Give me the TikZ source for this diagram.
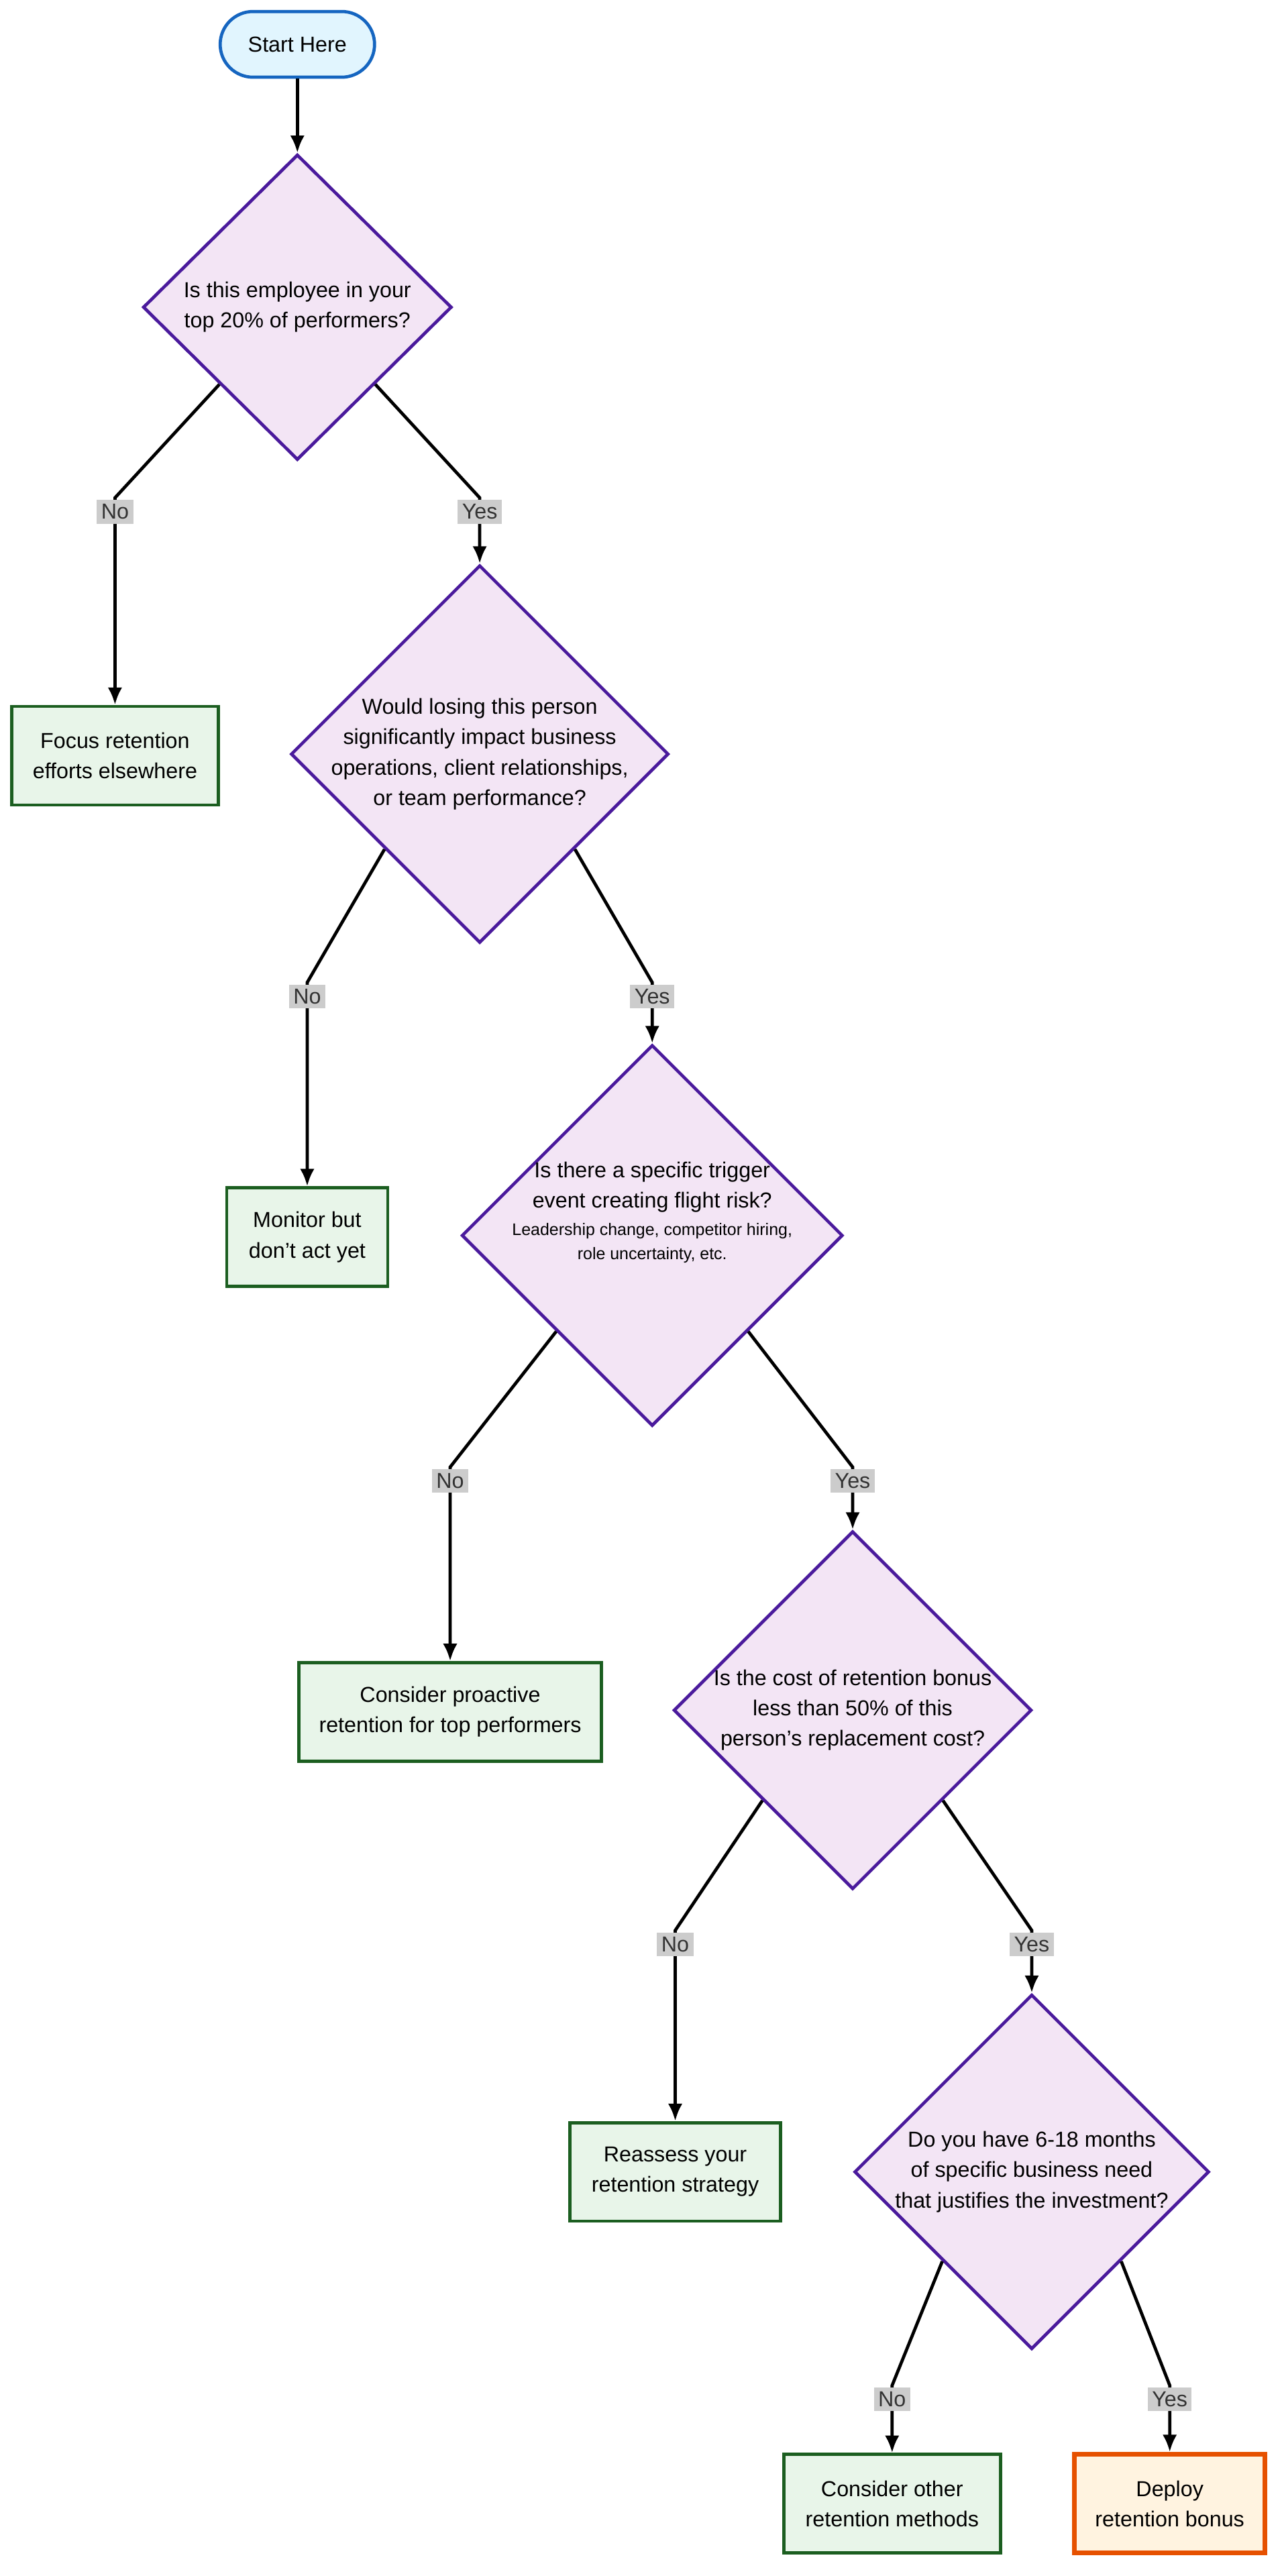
\documentclass[tikz,border=0pt]{standalone}
\usepackage{fontspec}
\setmainfont{Liberation Sans}
\usetikzlibrary{shapes.geometric, arrows.meta, calc}
\definecolor{startfill}{HTML}{E1F5FE}
\definecolor{startdraw}{HTML}{1565C0}
\definecolor{qfill}{HTML}{F3E5F5}
\definecolor{qdraw}{HTML}{4A1A9C}
\definecolor{afill}{HTML}{E8F5E9}
\definecolor{adraw}{HTML}{1B5E20}
\definecolor{ofill}{HTML}{FFF3E0}
\definecolor{odraw}{HTML}{E65100}
\tikzset{
  startnode/.style={rectangle, rounded corners=0.4cm, draw=startdraw, fill=startfill, line width=1.1pt, minimum width=1.88cm, minimum height=0.8cm, font=\fontsize{7.5}{9}\selectfont},
  question/.style={diamond, draw=qdraw, fill=qfill, line width=1.1pt, inner sep=0},
  qtext/.style={align=center, font=\fontsize{7.5}{10.5}\selectfont},
  action/.style={rectangle, draw=adraw, fill=afill, line width=1.1pt, minimum height=1.2cm, align=center, font=\fontsize{7.5}{10.5}\selectfont},
  final/.style={rectangle, draw=odraw, fill=ofill, line width=1.7pt, minimum height=1.2cm, align=center, font=\fontsize{7.5}{10.5}\selectfont},
  lbl/.style={fill=black!20, text=black!80, inner sep=1.5pt, font=\fontsize{7.5}{9}\selectfont, yshift=-0.17cm},
  flow/.style={line width=1.1pt, -{Latex[length=6pt,width=5pt]}},
}
\begin{document}
\begin{tikzpicture}[x=0.02cm, y=-0.02cm]
\useasboundingbox (0,0) rectangle (780,1568);
%start
\node[startnode] (start) at (181,27) {Start Here};
%question 1
\node[question, minimum width=3.76cm, minimum height=3.72cm] (q1) at (181,187) {};
\node[qtext] at (q1) {Is this employee in your\\top 20\% of performers?};
\node[action, minimum width=2.52cm] (a1) at (70,460) {Focus retention\\efforts elsewhere};
%question 2
\node[question, minimum width=4.6cm, minimum height=4.6cm] (q2) at (292,459) {};
\node[qtext] at (q2) {Would losing this person\\significantly impact business\\operations, client relationships,\\or team performance?};
\node[action, minimum width=1.96cm] (a2) at (187,753) {Monitor but\\don't act yet};
%question 3
\node[question, minimum width=4.64cm, minimum height=4.64cm] (q3) at (397,752) {};
\node[qtext] at ([yshift=8]q3) {Is there a specific trigger\\event creating flight risk?\\[-1pt]{\fontsize{5.8}{9}\selectfont Leadership change, competitor hiring,}\\[-2pt]{\fontsize{5.8}{9}\selectfont role uncertainty, etc.}};
\node[action, minimum width=3.68cm] (a3) at (274,1042) {Consider proactive\\retention for top performers};
%question 4
\node[question, minimum width=4.36cm, minimum height=4.36cm] (q4) at (519,1041) {};
\node[qtext] at (q4) {Is the cost of retention bonus\\less than 50\% of this\\person's replacement cost?};
\node[action, minimum width=2.56cm] (a4) at (411,1322) {Reassess your\\retention strategy};
%question 5
\node[question, minimum width=4.32cm, minimum height=4.32cm] (q5) at (628,1322) {};
\node[qtext] at (q5) {Do you have 6-18 months\\of specific business need\\that justifies the investment?};
\node[action, minimum width=2.64cm] (a5) at (543,1524) {Consider other\\retention methods};
\node[final, minimum width=2.32cm] (bonus) at (712,1524) {Deploy\\retention bonus};
%bends
\coordinate (k1n) at (70,303);  \coordinate (k1y) at (292,303);
\coordinate (k2n) at (187,598); \coordinate (k2y) at (397,598);
\coordinate (k3n) at (274,893); \coordinate (k3y) at (519,893);
\coordinate (k4n) at (411,1175); \coordinate (k4y) at (628,1175);
\coordinate (k5n) at (543,1452); \coordinate (k5y) at (712,1452);
% links
\draw[flow] (start) -- (q1);
\draw[flow] ($(q1.west)!0.5!(q1.south)$) -- (k1n) node[lbl]{No} -- (a1);
\draw[flow] ($(q1.east)!0.5!(q1.south)$) -- (k1y) node[lbl]{Yes} -- (q2);
\draw[flow] ($(q2.west)!0.5!(q2.south)$) -- (k2n) node[lbl]{No} -- (a2);
\draw[flow] ($(q2.east)!0.5!(q2.south)$) -- (k2y) node[lbl]{Yes} -- (q3);
\draw[flow] ($(q3.west)!0.5!(q3.south)$) -- (k3n) node[lbl]{No} -- (a3);
\draw[flow] ($(q3.east)!0.5!(q3.south)$) -- (k3y) node[lbl]{Yes} -- (q4);
\draw[flow] ($(q4.west)!0.5!(q4.south)$) -- (k4n) node[lbl]{No} -- (a4);
\draw[flow] ($(q4.east)!0.5!(q4.south)$) -- (k4y) node[lbl]{Yes} -- (q5);
\draw[flow] ($(q5.west)!0.5!(q5.south)$) -- (k5n) node[lbl]{No} -- (a5);
\draw[flow] ($(q5.east)!0.5!(q5.south)$) -- (k5y) node[lbl]{Yes} -- (bonus);
\end{tikzpicture}
\end{document}
